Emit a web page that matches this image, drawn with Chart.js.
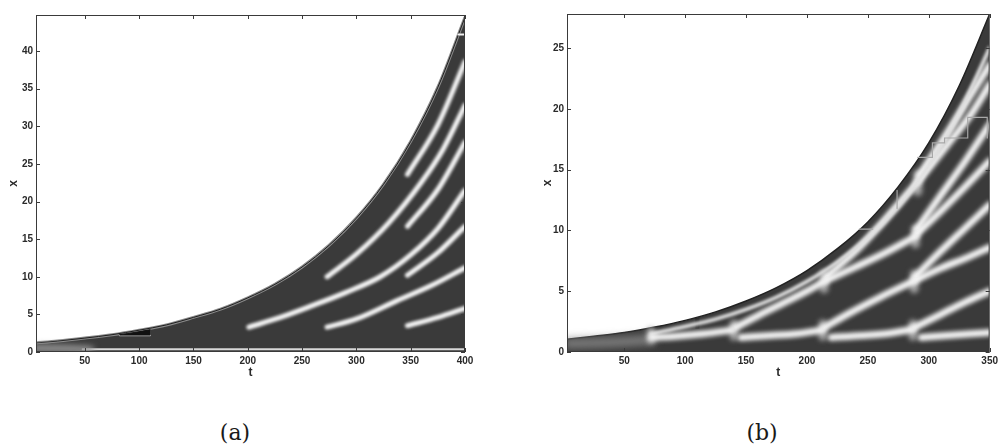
<!DOCTYPE html>
<html><head><meta charset="utf-8">
<script src="https://cdn.jsdelivr.net/npm/chart.js@4.4.1/dist/chart.umd.min.js"></script>
<style>
html,body{margin:0;padding:0;background:#fff;width:1001px;height:448px;overflow:hidden}
canvas{position:absolute;top:0}
#ca{left:0}
#cb{left:500px}
.cap{position:absolute;font-family:"DejaVu Serif","Liberation Serif",serif;font-size:22px;color:#1a1a1a;transform:translate(-50%,-50%);white-space:nowrap}
</style></head><body>
<canvas id="ca" width="500" height="380"></canvas>
<canvas id="cb" width="501" height="380"></canvas>
<div class="cap" style="left:235px;top:432px">(a)</div>
<div class="cap" style="left:762px;top:432px">(b)</div>
<script>
// ---------- panel (a) ----------
const xTicksA = [50,100,150,200,250,300,350,400];
const yTicksA = [0,5,10,15,20,25,30,35,40];
const tA    = [5,25,50,75,100,125,150,175,200,225,250,275,300,325,350,375,400];
const edgeA = [1.2,1.45,1.85,2.3,2.9,3.6,4.6,5.7,7.2,9.0,11.3,14.2,17.8,22.3,28.0,35.2,44.5];
const stripeA1 = [[201,3.3],[230,4.6],[260,6.2],[290,7.9],[322,10.0],[350,12.9],[375,16.4],[400,21.5]];
const stripeA2 = [[273,3.3],[300,4.4],[337,6.8],[370,8.9],[400,11.2]];
const stripeA3 = [[273,10.0],[300,13.0],[330,17.2],[360,22.6],[380,27.0],[400,32.8]];
const stripeA4 = [[347,3.5],[375,4.6],[400,5.8]];
const stripeA5 = [[347,10.2],[375,13.2],[400,16.7]];
const stripeA6 = [[347,16.7],[375,21.6],[400,27.9]];
const stripeA7 = [[347,23.6],[375,30.2],[400,38.6]];
const leftGlowA = [[5,0.5],[30,0.45],[55,0.3]];
const bottomLineA = [[48,0.35],[400,0.35]];
const wedgeTopA = [[82,2.3],[96,2.6],[110,2.95]];
const wedgeBaseA = [[82,2.2],[110,2.2]];
const markA = [[394,42.2],[400,42.2]];

// ---------- panel (b) ----------
const xTicksB = [50,100,150,200,250,300,350];
const yTicksB = [0,5,10,15,20,25];
const tB    = [3,25,50,75,100,125,150,175,200,225,250,275,300,325,350];
const edgeB = [1.05,1.3,1.6,2.05,2.6,3.3,4.2,5.3,6.7,8.5,10.7,13.6,17.2,21.9,27.8];
const bottomB1 = [[72,1.2],[92,1.3],[115,1.5],[138,1.8]];
const bottomB2 = [[146,1.2],[170,1.35],[192,1.5],[212,1.8]];
const bottomB3 = [[220,1.2],[245,1.35],[268,1.55],[286,1.85]];
const bottomB4 = [[294,1.2],[315,1.35],[335,1.5],[350,1.6]];
const nearEdgeB = [[72,1.5],[100,2.1],[125,2.7],[150,3.5],[175,4.5],[200,5.8],[225,7.4],[250,9.4],[275,12.0],[300,15.3],[325,19.6],[350,25.0]];
const upB140 = [[141,2.0],[160,3.0],[180,4.0],[200,5.0],[214,5.8]];
const upB213a = [[214,2.0],[235,3.2],[260,4.5],[287,5.8]];
const lowB213b = [[216,5.9],[240,7.0],[265,8.2],[289,9.5]];
const upB213b = [[216,6.2],[240,8.3],[265,11.0],[290,13.9]];
const upB287a = [[288,2.0],[310,3.1],[330,4.1],[350,5.0]];
const lowB288 = [[289,5.9],[310,6.9],[330,7.7],[350,8.6]];
const upB288 = [[289,6.2],[310,8.3],[330,10.2],[350,12.1]];
const lowB289 = [[290,9.7],[310,11.6],[330,13.6],[350,15.7]];
const upB289 = [[290,10.1],[310,12.9],[330,15.7],[350,18.7]];
const lowB291 = [[292,14.1],[315,17.0],[335,19.6],[350,22.0]];
const upB291 = [[292,14.5],[315,18.0],[335,21.2],[350,23.6]];
const blobsB = [[72,1.0],[72,1.7],[null,null],[140,1.3],[140,2.3],[null,null],[213,1.3],[213,2.3],[null,null],[214,5.2],[214,6.4],[null,null],
                [287,1.3],[287,2.3],[null,null],[288,5.2],[288,6.4],[null,null],[289,8.9],[289,10.1],[null,null],[291,13.2],[291,14.6]];
const leftGlowB = [[3,0.7],[40,0.8],[72,1.0]];
const stepsB = [[243,10.1],[254,10.1],[null,null],[274,11.8],[274,13.3],[null,null],[291,16.0],[303,16.0],[303,17.2],[313,17.2],[313,17.6],[332,17.6],[332,19.3],[348,19.3],[348,17.6]];
const darkRectB = [[110,1.9],[110,2.8]];

// ---------- helpers ----------
const pts = a => a.map(([t,v]) => ({x: t, y: v}));
const zip = (ts, vs) => ts.map((t,i) => ({x: t, y: vs[i]}));
const FONT = '"Liberation Sans","Arial",sans-serif';
const DARK = '#3a3a3a';

function stripe(a, w, blur, color, order){
  return {data: pts(a), showLine:true, pointRadius:0, borderColor: color || '#f6f6f6', borderWidth:w,
          borderCapStyle:'round', tension:0.4, cubicInterpolationMode:'monotone', fill:false, blur: blur, order: order||1, spanGaps:false};
}

const blurPlugin = {
  id:'blurLines',
  beforeDatasetDraw(chart, args){ const ds = chart.data.datasets[args.index]; if (ds.blur){ chart.ctx.save(); chart.ctx.filter = 'blur(' + ds.blur + 'px)'; } },
  afterDatasetDraw(chart, args){ const ds = chart.data.datasets[args.index]; if (ds.blur){ chart.ctx.restore(); } }
};
const framePlugin = {
  id:'frame',
  afterDatasetsDraw(chart){
    const {ctx, chartArea:a, scales:{x, y}} = chart;
    ctx.save(); ctx.strokeStyle = '#3a3a3a'; ctx.lineWidth = 1;
    ctx.strokeRect(a.left + 0.5, a.top + 0.5, a.right - a.left - 1, a.bottom - a.top - 1);
    ctx.beginPath();
    x.ticks.forEach(t => { const p = Math.round(x.getPixelForValue(t.value)) + 0.5;
      ctx.moveTo(p, a.bottom); ctx.lineTo(p, a.bottom - 4); ctx.moveTo(p, a.top); ctx.lineTo(p, a.top + 4); });
    y.ticks.forEach(t => { const p = Math.round(y.getPixelForValue(t.value)) + 0.5;
      ctx.moveTo(a.left, p); ctx.lineTo(a.left + 4, p); ctx.moveTo(a.right, p); ctx.lineTo(a.right - 4, p); });
    ctx.stroke(); ctx.restore();
  }
};

function makeScales(xmin, xmax, ymin, ymax, xt, yt, yWidth){
  return {
    x: {type:'linear', min:xmin, max:xmax,
        afterBuildTicks: s => { s.ticks = xt.map(v => ({value:v})); },
        afterFit: s => { s.height = 28; },
        ticks:{font:{family:FONT, size:10, weight:'bold'}, color:'#2a2a2a', maxRotation:0, padding:3},
        grid:{display:false, drawTicks:false}, border:{display:false},
        title:{display:true, text:'t', color:'#2a2a2a', font:{family:FONT, size:12, weight:'bold'}, padding:0}},
    y: {type:'linear', min:ymin, max:ymax,
        afterBuildTicks: s => { s.ticks = yt.map(v => ({value:v})); },
        afterFit: s => { s.width = yWidth; },
        ticks:{font:{family:FONT, size:10, weight:'bold'}, color:'#2a2a2a', padding:3},
        grid:{display:false, drawTicks:false}, border:{display:false},
        title:{display:true, text:'x', color:'#2a2a2a', font:{family:FONT, size:12, weight:'bold'}, padding:{top:6, bottom:0}}}
  };
}

const common = {
  responsive:false, animation:false, devicePixelRatio:1,
  plugins:{legend:{display:false}, tooltip:{enabled:false}},
  elements:{point:{radius:0}}
};

// ---------- chart (a) ----------
const wA = 5, bA = 1.4;
new Chart(document.getElementById('ca'), {
  type:'scatter',
  data:{datasets:[
    stripe(markA, 2, 0, '#f0f0f0', 0),
    stripe(stripeA1, wA, bA), stripe(stripeA2, wA, bA), stripe(stripeA3, wA, bA),
    stripe(stripeA4, wA, bA), stripe(stripeA5, wA, bA), stripe(stripeA6, wA, bA), stripe(stripeA7, wA, bA),
    stripe(leftGlowA, 7, 3, '#9a9a9a', 2),
    Object.assign(stripe(bottomLineA, 2, 0.6, '#d8d8d8', 2), {tension:0}),
    Object.assign(stripe(wedgeTopA, 1, 0, '#111', 3), {fill:{target:'+1'}, backgroundColor:'#111', tension:0}),
    Object.assign(stripe(wedgeBaseA, 1.5, 0, '#bbbbbb', 3), {tension:0}),
    {data: zip(tA, edgeA), showLine:true, pointRadius:0, borderColor:'#8a8a8a', borderWidth:3, tension:0.4,
     cubicInterpolationMode:'monotone', fill:'origin', backgroundColor:DARK, order:10},
    {data: zip(tA, edgeA), showLine:true, pointRadius:0, borderColor:'#1e1e1e', borderWidth:1, tension:0.4,
     cubicInterpolationMode:'monotone', fill:false, order:9}
  ]},
  options: Object.assign({}, common, {
    layout:{padding:{left:0, right:35, top:15, bottom:0}},
    scales: makeScales(5, 400, 0, 44.8, xTicksA, yTicksA, 36)
  }),
  plugins:[blurPlugin, framePlugin]
});

// ---------- chart (b) ----------
const wB = 7, bB = 2.2;
new Chart(document.getElementById('cb'), {
  type:'scatter',
  data:{datasets:[
    Object.assign(stripe(stepsB, 1.2, 0, '#a8a8a8', 0), {tension:0}),
    stripe(bottomB1, wB, bB), stripe(bottomB2, wB, bB), stripe(bottomB3, wB, bB), stripe(bottomB4, wB, bB),
    stripe(nearEdgeB, 4, 1.6, '#e0e0e0'), stripe(upB140, wB, bB),
    stripe(upB213a, wB, bB), stripe(lowB213b, wB, bB), stripe(upB213b, wB, bB),
    stripe(upB287a, wB, bB), stripe(lowB288, wB, bB), stripe(upB288, wB, bB),
    stripe(lowB289, wB, bB), stripe(upB289, wB, bB), stripe(lowB291, wB, bB), stripe(upB291, wB, bB),
    Object.assign(stripe(blobsB, 9, 2.5, 'rgba(175,175,175,0.9)', 2), {tension:0}),
    stripe(leftGlowB, 9, 4, '#858585', 3),
    Object.assign(stripe(darkRectB, 4, 0, '#2a2a2a', 3), {tension:0, borderCapStyle:'butt'}),
    {data: zip(tB, edgeB), showLine:true, pointRadius:0, borderColor:'#222', borderWidth:1.5, tension:0.4,
     cubicInterpolationMode:'monotone', fill:'origin', backgroundColor:DARK, order:10}
  ]},
  options: Object.assign({}, common, {
    layout:{padding:{left:34, right:6, top:14, bottom:0}},
    scales: makeScales(3, 350, 0, 27.8, xTicksB, yTicksB, 33)
  }),
  plugins:[blurPlugin, framePlugin]
});
</script>
</body></html>
